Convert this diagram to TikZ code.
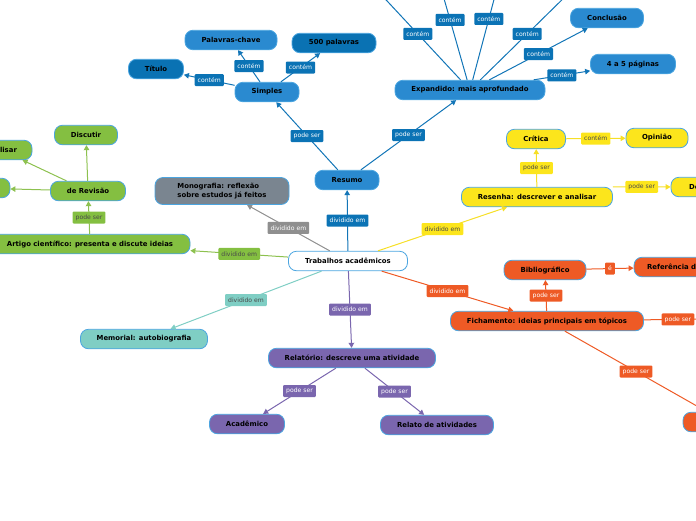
\documentclass[tikz,border=0pt]{standalone}
\usepackage{fontspec}
\setmainfont{DejaVu Sans}
\usetikzlibrary{arrows.meta}

\definecolor{nodeline}{HTML}{4BA5E0}
\definecolor{bluenode}{HTML}{2A8AD0}
\definecolor{bluedark}{HTML}{0A72B3}
\definecolor{bluetag}{HTML}{0B73B5}
\definecolor{blueline}{HTML}{1275B7}
\definecolor{greennode}{HTML}{84BF41}
\definecolor{greenline}{HTML}{8DC14F}
\definecolor{graynode}{HTML}{7A8590}
\definecolor{grayline}{HTML}{8F8F8F}
\definecolor{tealnode}{HTML}{7FCEC4}
\definecolor{yellownode}{HTML}{FCE51C}
\definecolor{yellowline}{HTML}{F6DF27}
\definecolor{orangenode}{HTML}{EE5A25}
\definecolor{purplenode}{HTML}{7A66AE}
\definecolor{tagtext}{HTML}{4A4A4A}

\begin{document}
\begin{tikzpicture}[x=1pt, y=-1pt,
  box/.style={draw=nodeline, line width=0.8pt, rounded corners=8pt,
    minimum height=19.5pt, inner sep=2pt,
    font=\fontsize{6.9}{8.5}\selectfont\bfseries, text=black},
  tag/.style={fill=#1, rounded corners=1pt, inner xsep=3pt, inner ysep=0pt,
    minimum height=12pt, font=\fontsize{6.1}{7}\selectfont},
  link/.style={draw=#1, line width=1pt, -{Triangle[length=5pt,width=5.5pt]}},
]

\useasboundingbox (0,0) rectangle (696,520);
\clip (0,0) rectangle (696,520);


% Centre
\path
(348,261) node [box, fill=white, minimum width=119pt] (trab) {Trabalhos acadêmicos};


% Resumo branch
\path
(347,180) node [box, fill=bluenode, minimum width=64pt] (resumo) {Resumo};
\path
(267,92) node [box, fill=bluenode, minimum width=64pt] (simples) {Simples};
\path
(156,69) node [box, fill=bluedark, minimum width=55pt] (titulo) {Título};
\path
(231,40) node [box, fill=bluenode, minimum width=92pt] (chave) {Palavras-chave};
\path
(334,43) node [box, fill=bluedark, minimum width=84pt] (quinhentas) {500 palavras};
\path
(470,90) node [box, fill=bluenode, minimum width=150pt] (expandido) {Expandido: mais aprofundado};
\path
(607,18) node [box, fill=bluenode, minimum width=73pt] (conclusao) {Conclusão};
\path
(633,64) node [box, fill=bluenode, minimum width=85pt] (paginas) {4 a 5 páginas};

% ends above the page
\coordinate (cima1) at (375,-12);
\coordinate (cima2) at (433,-40);
\coordinate (cima3) at (505,-42);
\coordinate (cima4) at (574,-12);

\draw[link=blueline] (trab) -- node[tag=bluetag, text=white] {dividido em} (resumo);
\draw[link=blueline] (resumo) -- node[tag=bluetag, text=white] {pode ser} (simples);
\draw[link=blueline] (resumo) -- node[tag=bluetag, text=white] {pode ser} (expandido);
\draw[link=blueline] (simples) -- node[tag=bluetag, text=white] {contém} (titulo);
\draw[link=blueline] (simples) -- node[tag=bluetag, text=white] {contém} (chave);
\draw[link=blueline] (simples) -- node[tag=bluetag, text=white] {contém} (quinhentas);
\draw[link=blueline] (expandido) -- node[tag=bluetag, text=white] {contém} (cima1);
\draw[link=blueline] (expandido) -- node[tag=bluetag, text=white] {contém} (cima2);
\draw[link=blueline] (expandido) -- node[tag=bluetag, text=white] {contém} (cima3);
\draw[link=blueline] (expandido) -- node[tag=bluetag, text=white] {contém} (cima4);
\draw[link=blueline] (expandido) -- node[tag=bluetag, text=white] {contém} (conclusao);
\draw[link=blueline] (expandido) -- node[tag=bluetag, text=white] {contém} (paginas);


% Monografia
\path
(222,191) node [box, fill=graynode, minimum width=134pt, minimum height=27pt, align=left] (mono) {Monografia: reflexão\\sobre estudos já feitos};

\draw[link=grayline] (trab) -- node[tag=grayline, text=white] {dividido em} (mono);


% Artigo branch
\path
(90,244) node [box, fill=greennode, minimum width=200pt] (artigo) {Artigo científico: presenta e discute ideias};
\path
(88,191) node [box, fill=greennode, minimum width=75pt] (revisao) {de Revisão};
\path
(86,135) node [box, fill=greennode, minimum width=63pt] (discutir) {Discutir};
\path
(1,150) node [box, fill=greennode, minimum width=62pt] (analisar) {Analisar};
\path
(-25,188) node [box, fill=greennode, minimum width=70pt] (outro) {};

\draw[link=greenline] (trab) -- node[tag=greennode, text=tagtext] {dividido em} (artigo);
\draw[link=greenline] (artigo) -- node[tag=greennode, text=tagtext] {pode ser} (revisao);
\draw[link=greenline] (revisao) -- (discutir);
\draw[link=greenline] (revisao) -- (analisar);
\draw[link=greenline] (revisao) -- (outro);


% Memorial
\path
(144,339) node [box, fill=tealnode, minimum width=127pt] (memorial) {Memorial: autobiografia};

\draw[link=tealnode] (trab) -- node[tag=tealnode, text=tagtext] {dividido em} (memorial);


% Resenha branch
\path
(537,197) node [box, fill=yellownode, minimum width=151pt] (resenha) {Resenha: descrever e analisar};
\path
(536,139) node [box, fill=yellownode, minimum width=59pt] (critica) {Crítica};
\path
(657,138) node [box, fill=yellownode, minimum width=62pt] (opiniao) {Opinião};
\path
(708,187) node [box, fill=yellownode, minimum width=74pt] (descricao) {Descrição};

\draw[link=yellowline] (trab) -- node[tag=yellownode, text=tagtext] {dividido em} (resenha);
\draw[link=yellowline] (resenha) -- node[tag=yellownode, text=tagtext] {pode ser} (critica);
\draw[link=yellowline] (critica) -- node[tag=yellownode, text=tagtext] {contém} (opiniao);
\draw[link=yellowline] (resenha.north east) -- node[tag=yellownode, text=tagtext] {pode ser} (descricao);


% Fichamento branch
\path
(547,321) node [box, fill=orangenode, minimum width=193pt] (ficha) {Fichamento: ideias principais em tópicos};
\path
(545,270) node [box, fill=orangenode, minimum width=82pt] (biblio) {Bibliográfico};
\path
(684,267) node [box, fill=orangenode, minimum width=100pt] (referencia) {Referência da obra};
\path
(725,422) node [box, fill=orangenode, minimum width=84pt] (fichaout) {};
\coordinate (fora) at (712,319);

\draw[link=orangenode] (trab) -- node[tag=orangenode, text=white] {dividido em} (ficha);
\draw[link=orangenode] (ficha) -- node[tag=orangenode, text=white] {pode ser} (biblio);
\draw[link=orangenode] (biblio) -- node[tag=orangenode, text=white] {é} (referencia);
\draw[link=orangenode] (ficha) -- node[tag=orangenode, text=white] {pode ser} (fora);
\draw[link=orangenode] (ficha) -- node[tag=orangenode, text=white] {pode ser} (fichaout);


% Relatorio branch
\path
(352,358) node [box, fill=purplenode, minimum width=167pt] (relatorio) {Relatório: descreve uma atividade};
\path
(247,424) node [box, fill=purplenode, minimum width=75pt] (academico) {Acadêmico};
\path
(437,425) node [box, fill=purplenode, minimum width=113pt] (relato) {Relato de atividades};

\draw[link=purplenode] (trab) -- node[tag=purplenode, text=white] {dividido em} (relatorio);
\draw[link=purplenode] (relatorio) -- node[tag=purplenode, text=white] {pode ser} (academico);
\draw[link=purplenode] (relatorio) -- node[tag=purplenode, text=white] {pode ser} (relato);


\end{tikzpicture}
\end{document}
